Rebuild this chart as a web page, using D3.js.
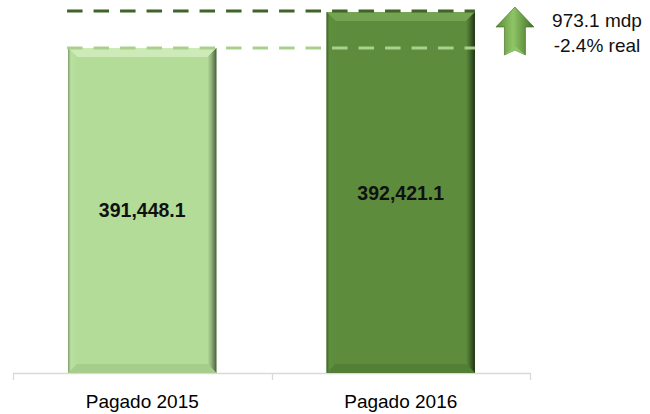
<!DOCTYPE html>
<html>
<head>
<meta charset="utf-8">
<script src="https://cdn.jsdelivr.net/npm/d3@7/dist/d3.min.js"></script>
<style>
	body { margin: 0; background: #fff; }
	svg { display: block; font-family: "Liberation Sans", Arial, sans-serif; }
</style>
</head>
<body>
<svg width="650" height="414"></svg>
<script>
// Pagado 2015 vs Pagado 2016 (mdp)
const categories = ['Pagado 2015', 'Pagado 2016']
const values = [391448.1, 392421.1]
const valueLabels = ['391,448.1', '392,421.1']
const changeLabels = ['973.1 mdp', '-2.4% real']
const axisMin = 382664 // axis is truncated in the original

const svg = d3.select('svg')
const baseY = 373

var x = d3.scaleBand().domain(categories).range([13, 530]).padding(0)
var y = d3.scaleLinear().domain([axisMin, values[1]]).range([baseY, 12])

const palettes = [
	{base: '#b3dc98', top: '#cfeab9', left: '#b9e0a0', ledge: '#7f9c6c', right: '#8eaf78', edge: '#4a5e3f', bottom: '#a6cd8c'},
	{base: '#5d8d3c', top: '#74a351', left: '#5f8f3e', ledge: '#3d5e28', right: '#46692e', edge: '#1f3316', bottom: '#527f35'}
]

var defs = svg.append('defs')
palettes.forEach(function(p, i) {
	var g = defs.append('linearGradient').attr('id', 'rg' + i)
		.attr('x1', 0).attr('x2', 1).attr('y1', 0).attr('y2', 0)
	g.append('stop').attr('offset', '0%').attr('stop-color', p.base)
	g.append('stop').attr('offset', '45%').attr('stop-color', p.right)
	g.append('stop').attr('offset', '100%').attr('stop-color', p.edge)
	var l = defs.append('linearGradient').attr('id', 'lg' + i)
		.attr('x1', 0).attr('x2', 1).attr('y1', 0).attr('y2', 0)
	l.append('stop').attr('offset', '0%').attr('stop-color', p.ledge)
	l.append('stop').attr('offset', '30%').attr('stop-color', p.left)
	l.append('stop').attr('offset', '100%').attr('stop-color', p.base)
})
var ag = defs.append('linearGradient').attr('id', 'arrowg')
	.attr('x1', 0).attr('x2', 1).attr('y1', 0).attr('y2', 0)
ag.append('stop').attr('offset', '0%').attr('stop-color', '#578a33')
ag.append('stop').attr('offset', '45%').attr('stop-color', '#8fc567')
ag.append('stop').attr('offset', '100%').attr('stop-color', '#426e25')

// axis
svg.append('line')
	.attr('x1', x.range()[0]).attr('x2', x.range()[1])
	.attr('y1', baseY + 0.5).attr('y2', baseY + 0.5)
	.attr('stroke', '#d9d9d9').attr('stroke-width', 1.3)
var edges = categories.map(function(c) { return x(c) }).concat([x.range()[1]])
svg.selectAll('.tick').data(edges).enter().append('line')
	.attr('x1', function(d) { return Math.round(d) + 0.5 })
	.attr('x2', function(d) { return Math.round(d) + 0.5 })
	.attr('y1', baseY).attr('y2', baseY + 7)
	.attr('stroke', '#d9d9d9').attr('stroke-width', 1.3)

svg.append('g')
	.attr('transform', 'translate(0,' + baseY + ')')
	.call(d3.axisBottom(x).tickSize(0).tickPadding(22))
	.call(function(g) { g.select('.domain').remove() })
	.selectAll('text')
	.attr('font-size', 19).attr('fill', '#000')
	.attr('font-family', '"Liberation Sans", Arial, sans-serif')

// bars with bevel
const barFrac = 0.574
const bev = 9
var bars = svg.selectAll('.bar').data(values).enter().append('g').attr('class', 'bar')
bars.each(function(v, i) {
	var g = d3.select(this)
	var p = palettes[i]
	var bw = x.bandwidth() * barFrac
	var x0 = x(categories[i]) + (x.bandwidth() - bw) / 2
	var x1 = x0 + bw
	var y0 = y(v)
	var y1 = baseY
	g.append('rect').attr('x', x0).attr('y', y0).attr('width', bw).attr('height', y1 - y0)
		.attr('fill', p.base)
	g.append('polygon').attr('fill', p.top)
		.attr('points', [[x0, y0], [x1, y0], [x1 - bev, y0 + bev], [x0 + bev, y0 + bev]].join(' '))
	g.append('polygon').attr('fill', 'url(#lg' + i + ')')
		.attr('points', [[x0, y0], [x0 + bev, y0 + bev], [x0 + bev, y1 - bev], [x0, y1]].join(' '))
	g.append('polygon').attr('fill', 'url(#rg' + i + ')')
		.attr('points', [[x1 - bev, y0 + bev], [x1, y0], [x1, y1], [x1 - bev, y1 - bev]].join(' '))
	g.append('polygon').attr('fill', p.bottom)
		.attr('points', [[x0 + bev, y1 - bev], [x1 - bev, y1 - bev], [x1, y1], [x0, y1]].join(' '))
	g.append('text')
		.attr('x', (x0 + x1) / 2).attr('y', (y0 + y1) / 2 + 7)
		.attr('text-anchor', 'middle').attr('font-weight', 'bold').attr('font-size', 19.5)
		.attr('fill', '#111')
		.text(valueLabels[i])
})

// dashed reference lines
var bw = x.bandwidth() * barFrac
var lx0 = x(categories[0]) + (x.bandwidth() - bw) / 2 - 1
var lx1 = x(categories[1]) + (x.bandwidth() + bw) / 2
svg.selectAll('.ref').data(values).enter().append('line')
	.attr('x1', lx0).attr('x2', lx1)
	.attr('y1', function(d) { return y(d) - (d === values[1] ? 1 : 0) })
	.attr('y2', function(d) { return y(d) - (d === values[1] ? 1 : 0) })
	.attr('stroke', function(d, i) { return i ? '#3f6328' : '#a9d18e' })
	.attr('stroke-width', 3.2)
	.attr('stroke-dasharray', '15.5,11')

// up arrow annotation
var ax = lx1 + 40
var ay0 = y(values[1]) - 5
var ay1 = y(values[0]) + 7
var head = 20
svg.append('polygon')
	.attr('fill', 'url(#arrowg)').attr('stroke', '#3c6622').attr('stroke-width', 0.6)
	.attr('points', [
		[ax, ay0], [ax + 19, ay0 + head], [ax + 10.5, ay0 + head], [ax + 10.5, ay1],
		[ax, ay1 - 5], [ax - 10.5, ay1], [ax - 10.5, ay0 + head], [ax - 19, ay0 + head]
	].join(' '))
svg.append('polygon')
	.attr('fill', '#8cc866')
	.attr('points', [[ax - 10.5, ay1], [ax, ay1 - 5], [ax + 10.5, ay1], [ax, ay1 - 9]].join(' '))

svg.selectAll('.chg').data(changeLabels).enter().append('text')
	.attr('x', 597).attr('y', function(d, i) { return 27 + i * 25 })
	.attr('text-anchor', 'middle').attr('font-size', 19).attr('fill', '#111')
	.text(function(d) { return d })
</script>
</body>
</html>
